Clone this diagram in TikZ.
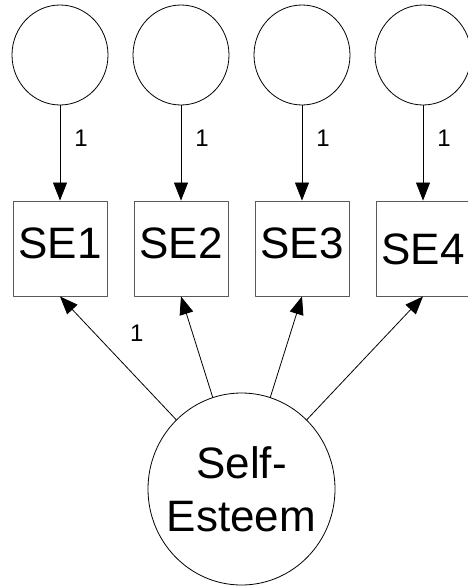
\documentclass[tikz,border=0pt]{standalone}
\usepackage{fontspec}
\setmainfont{Liberation Sans}
\usetikzlibrary{arrows.meta, positioning, shapes.geometric}
\tikzset{
	latent/.style={draw, ellipse, line width=0.8pt, minimum width=96pt, minimum height=100pt, inner sep=0pt},
	indicator/.style={draw=black!65, rectangle, line width=0.9pt, minimum width=94pt, minimum height=95pt, inner sep=0pt, font=\fontsize{44}{53}\selectfont, text height=31.5pt},
	loading/.style={line width=0.8pt, -{Triangle[length=18pt,width=14pt]}},
	coef/.style={font=\fontsize{24}{28}\selectfont, inner sep=0pt}
}

\begin{document}
\begin{tikzpicture}[x=1pt,y=-1pt,line join=round,line cap=round]
		\useasboundingbox (0,0) rectangle (468,586);
		% error terms and indicators
		\foreach\i/\x/\d in {1/60/11,2/181/11,3/302/11,4/423/0}
		{
			\node[latent] (e\i) at (\x,55) {};
			\node[indicator, text depth=\d pt] (SE\i) at (\x,248.5) {SE\i};
			\draw[loading] (e\i) -- (SE\i) node[coef, pos=0.35, right=14pt] {1};
		}
		% factor
		\node[latent, minimum width=187pt, minimum height=192pt, inner sep=-12pt, align=center, font=\fontsize{44}{53}\selectfont] (se) at (241.5,489) {Self-\\Esteem};
		\draw[loading] (se) -- (SE1.south) node[coef, pos=0.7, xshift=42pt] {1};
		\foreach\i in {2,3,4}
			\draw[loading] (se) -- (SE\i.south);
	\end{tikzpicture}
\end{document}
